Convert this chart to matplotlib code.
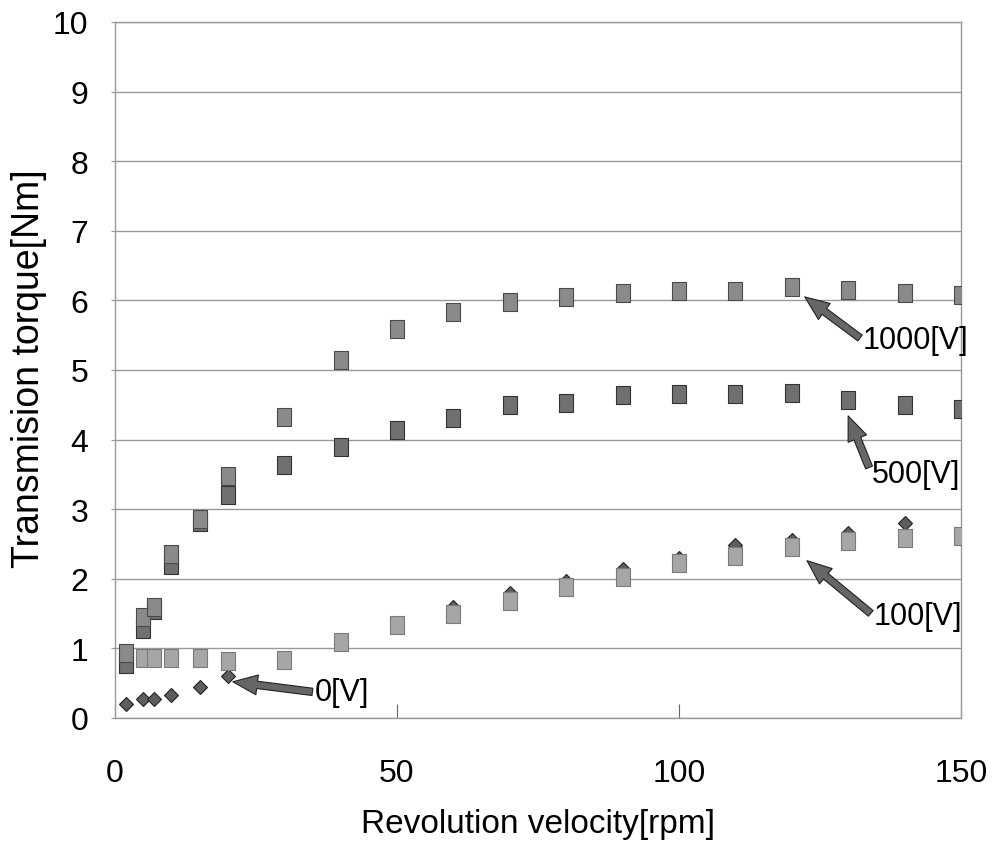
import matplotlib
matplotlib.use("Agg")
from matplotlib import pyplot as plt

# 回転数 [rpm]
speed = [2, 5, 7, 10, 15, 20, 30, 40, 50, 60, 70, 80, 90, 100, 110, 120, 130, 140, 150]

# 伝達トルク [Nm]
torque_0v = [0.20, 0.27, 0.27, 0.33, 0.45, 0.60, 0.82, 1.08, 1.33, 1.59, 1.80, 1.97,
             2.14, 2.30, 2.48, 2.56, 2.66, 2.80, 2.60]
torque_100v = [0.88, 0.86, 0.86, 0.86, 0.86, 0.82, 0.83, 1.09, 1.34, 1.50, 1.68, 1.88,
               2.02, 2.22, 2.33, 2.45, 2.55, 2.58, 2.61]
torque_500v = [0.78, 1.28, 1.55, 2.20, 2.82, 3.20, 3.63, 3.90, 4.14, 4.31, 4.50, 4.53,
               4.64, 4.66, 4.66, 4.67, 4.57, 4.50, 4.44]
torque_1000v = [0.93, 1.45, 1.60, 2.35, 2.86, 3.48, 4.32, 5.14, 5.59, 5.83, 5.98, 6.05,
                6.11, 6.14, 6.14, 6.19, 6.15, 6.11, 6.08]

# ラベル, 文字位置, 矢印の先
labels = ["0[V]", "100[V]", "500[V]", "1000[V]"]
label_pos = [(35.5, 0.37), (134.5, 1.47), (134.2, 3.50), (132.6, 5.43)]
arrow_tip = [(20.9, 0.52), (122.7, 2.26), (130.0, 4.34), (122.3, 6.05)]

plt.rcParams["font.family"] = ["Liberation Sans", "DejaVu Sans"]

fig = plt.figure(figsize=(9.92, 8.54), dpi=100)
ax = fig.add_axes([0.1159, 0.1581, 0.8528, 0.8150])

rect = [(-0.43, -0.5), (0.43, -0.5), (0.43, 0.5), (-0.43, 0.5), (-0.43, -0.5)]

ax.plot(speed, torque_0v, linestyle="none", marker="D", ms=7.5,
        mfc="#5e5e5e", mec="#222222", mew=0.8, zorder=3)
ax.plot(speed, torque_100v, linestyle="none", marker=rect, ms=12.5,
        mfc="#a6a6a6", mec="#7a7a7a", mew=0.8, zorder=4)
ax.plot(speed, torque_500v, linestyle="none", marker=rect, ms=12.5,
        mfc="#707070", mec="#333333", mew=0.8, zorder=4)
ax.plot(speed, torque_1000v, linestyle="none", marker=rect, ms=12.5,
        mfc="#8a8a8a", mec="#4a4a4a", mew=0.8, zorder=5)

for text, pos, tip in zip(labels, label_pos, arrow_tip):
    ax.annotate(text, xy=tip, xytext=pos, fontsize=22, va="center", ha="left",
                zorder=6,
                arrowprops=dict(arrowstyle="simple,head_length=0.8,head_width=0.65,tail_width=0.24",
                                fc="#666666", ec="#222222", lw=0.8, relpos=(0, 0.5),
                                mutation_scale=22, shrinkA=0, shrinkB=0))

ax.set_xlim(0, 150)
ax.set_ylim(0, 10)
ax.set_xticks([0, 50, 100, 150])
ax.set_yticks(range(0, 11))
ax.yaxis.grid(True, color="#999999", lw=1)
ax.set_axisbelow(True)
for s in ax.spines.values():
    s.set_color("#999999")
    s.set_linewidth(1)
ax.tick_params(axis="x", direction="in", length=10, color="#666666", labelsize=23, pad=29)
ax.tick_params(axis="y", direction="out", length=3, color="#999999", labelsize=23, pad=16)

ax.set_xlabel("Revolution velocity[rpm]", fontsize=24, labelpad=14)
ax.set_ylabel("Transmision torque[Nm]", fontsize=27)
ax.yaxis.set_label_coords(-0.080, 0.503)

fig.savefig("out.png", dpi=100)
